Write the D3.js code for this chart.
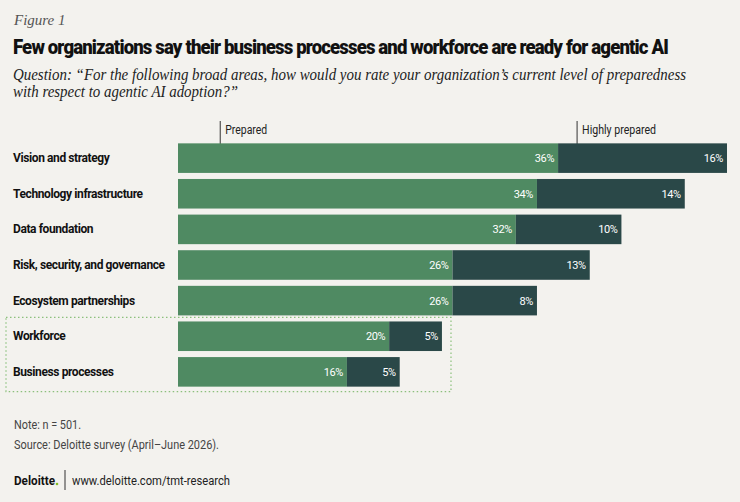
<!DOCTYPE html>
<html><head><meta charset="utf-8">
<script src="https://cdn.jsdelivr.net/npm/d3@7"></script>
<style>
body{margin:0;background:#f3f2ee;}
svg{display:block;}
</style></head>
<body><svg id="chart" width="740" height="502"></svg>
<script>
// Data
var categories = ["Vision and strategy","Technology infrastructure","Data foundation","Risk, security, and governance","Ecosystem partnerships","Workforce","Business processes"];
var prepared = [36,34,32,26,26,20,16];
var highly = [16,14,10,13,8,5,5];
var series_names = ["Prepared","Highly prepared"];

var green = "#4f8a62", dark = "#2a4848";
var svg = d3.select("#chart");
svg.append("rect").attr("width",740).attr("height",502).attr("fill","#f3f2ee");

svg.append("text").attr("x",14).attr("y",25).text("Figure 1")
	.attr("font-family","Liberation Serif").attr("font-style","italic").attr("font-size",15).attr("fill","#555");
svg.append("text").attr("x",13).attr("y",54).text("Few organizations say their business processes and workforce are ready for agentic AI")
	.attr("font-family","Roboto").attr("font-weight",900).attr("font-size",19.5).attr("letter-spacing","-0.9").attr("fill","#111")
	.attr("textLength",655).attr("lengthAdjust","spacingAndGlyphs");
var q = svg.append("text").attr("font-family","Liberation Serif").attr("font-style","italic").attr("font-size",16).attr("fill","#222");
q.append("tspan").attr("x",13).attr("y",80).attr("textLength",673).attr("lengthAdjust","spacingAndGlyphs")
	.text("Question: \u201cFor the following broad areas, how would you rate your organization\u2019s current level of preparedness");
q.append("tspan").attr("x",13).attr("y",97).attr("textLength",225).attr("lengthAdjust","spacingAndGlyphs")
	.text("with respect to agentic AI adoption?\u201d");

var x = d3.scaleLinear().domain([0,52]).range([178,727]);
var y = d3.scaleBand().domain(categories).range([140.5,389.5]).paddingInner(0.17).paddingOuter(0.08);

// highlight box
svg.append("rect").attr("x",6).attr("y",y("Workforce")-4).attr("width",445)
	.attr("height",y("Business processes")+y.bandwidth()+5-(y("Workforce")-4))
	.attr("fill","none").attr("stroke","#8cc07c").attr("stroke-width",1.2).attr("stroke-dasharray","1.5,2.5");

// legend
var legX = [x(4), x(37.8)];
var legW = [42, 74];
series_names.forEach(function(n,i){
	svg.append("line").attr("x1",legX[i]).attr("x2",legX[i]).attr("y1",121).attr("y2",144).attr("stroke","#333");
	svg.append("text").attr("x",legX[i]+5).attr("y",134).text(n)
		.attr("font-family","Roboto").attr("font-size",12).attr("fill","#222")
		.attr("textLength", legW[i]).attr("lengthAdjust","spacingAndGlyphs");
});

var rows = svg.selectAll("g.row").data(categories).enter().append("g");
rows.append("text").attr("x",13).attr("y",function(d){return y(d)+y.bandwidth()/2+4;})
	.text(function(d){return d;}).attr("font-family","Roboto").attr("font-weight",700).attr("font-size",12)
	.attr("letter-spacing","-0.4").attr("fill","#111");
rows.append("rect").attr("x",x(0)).attr("y",function(d){return y(d);}).attr("height",y.bandwidth())
	.attr("width",function(d,i){return x(prepared[i])-x(0);}).attr("fill",green);
rows.append("rect").attr("x",function(d,i){return x(prepared[i]);}).attr("y",function(d){return y(d);}).attr("height",y.bandwidth())
	.attr("width",function(d,i){return x(prepared[i]+highly[i])-x(prepared[i]);}).attr("fill",dark);
rows.append("text").attr("x",function(d,i){return x(prepared[i])-4;}).attr("y",function(d){return y(d)+y.bandwidth()/2+4;})
	.attr("text-anchor","end").text(function(d,i){return prepared[i]+"%";})
	.attr("font-family","Roboto").attr("font-size",11).attr("fill","#fff").attr("letter-spacing","-0.4");
rows.append("text").attr("x",function(d,i){return x(prepared[i]+highly[i])-4;}).attr("y",function(d){return y(d)+y.bandwidth()/2+4;})
	.attr("text-anchor","end").text(function(d,i){return highly[i]+"%";})
	.attr("font-family","Roboto").attr("font-size",11).attr("fill","#fff").attr("letter-spacing","-0.4");

var foot = [["Note: n = 501.",429,67],["Source: Deloitte survey (April\u2013June 2026).",449,205]];
foot.forEach(function(f){
	svg.append("text").attr("x",14).attr("y",f[1]).text(f[0]).attr("font-family","Roboto").attr("font-size",12.5).attr("fill","#444")
		.attr("textLength",f[2]).attr("lengthAdjust","spacingAndGlyphs");
});
svg.append("text").attr("x",14).attr("y",485).text("Deloitte").attr("font-family","Roboto").attr("font-weight",700).attr("font-size",12.5).attr("fill","#111")
	.attr("textLength",41).attr("lengthAdjust","spacingAndGlyphs");
svg.append("circle").attr("cx",57).attr("cy",484).attr("r",1.3).attr("fill","#86bc25");
svg.append("line").attr("x1",65).attr("x2",65).attr("y1",470).attr("y2",490).attr("stroke","#333");
svg.append("text").attr("x",72).attr("y",485).text("www.deloitte.com/tmt-research").attr("font-family","Roboto").attr("font-size",12.5).attr("fill","#222")
	.attr("textLength",158).attr("lengthAdjust","spacingAndGlyphs");
</script></body></html>
